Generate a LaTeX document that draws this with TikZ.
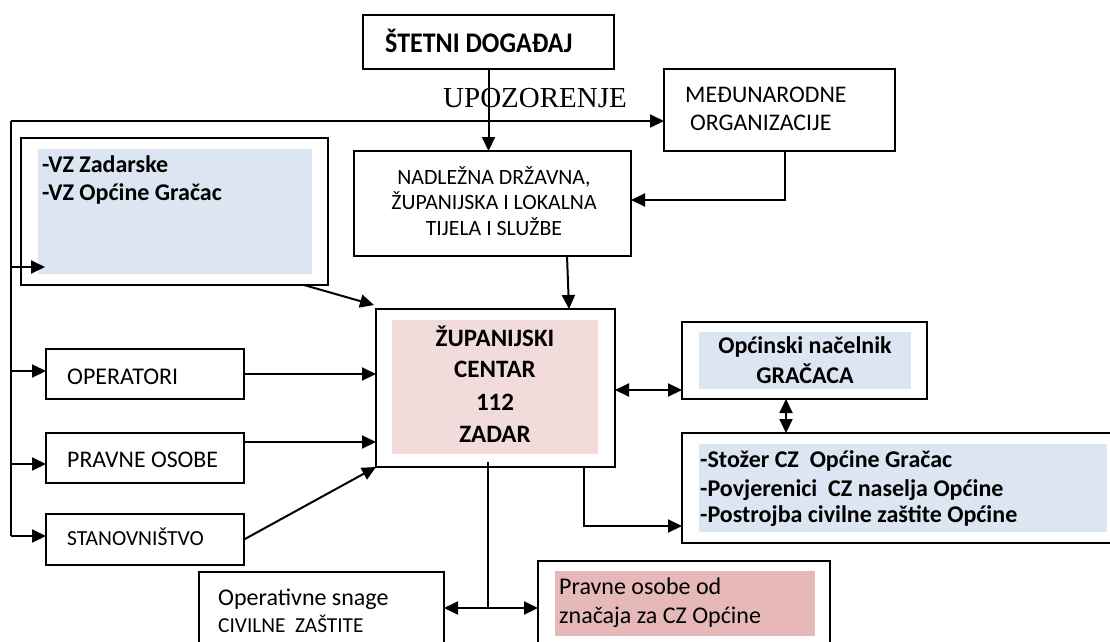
\documentclass[tikz,border=0pt]{standalone}
\usepackage{fontspec}
\setmainfont{Carlito}
\newfontfamily\serifup{Liberation Serif}
\newfontfamily\narrowc{Carlito}[FakeStretch=0.915]
\usetikzlibrary{arrows.meta,calc}
\definecolor{lblue}{HTML}{DCE6F2}
\definecolor{lpink}{HTML}{F2DCDB}
\definecolor{mpink}{HTML}{E6B8B7}
\newcommand\myfs[1]{\fontsize{#1}{#1}\selectfont}
\begin{document}
\begin{tikzpicture}[x=1pt,y=-1pt,
  box/.style={draw, line width=1.5pt, fill=white, anchor=north west, inner sep=0pt, outer sep=0pt},
  fillb/.style={draw=none, anchor=north west, inner sep=0pt, outer sep=0pt},
  arr/.style={line width=2pt, -{Triangle[length=14pt,width=13pt]}},
  darr/.style={line width=2pt, {Triangle[length=14pt,width=13pt]}-{Triangle[length=14pt,width=13pt]}},
  tl/.style={inner sep=0pt, anchor=base west},
  tc/.style={inner sep=0pt, anchor=base},
]
\useasboundingbox[fill=white] (0,0) rectangle (1110,641);

% boxes
\node[box, minimum width=251pt, minimum height=54pt] (stetni) at (363,15) {};
\node[box, minimum width=231pt, minimum height=82pt] (medj) at (664,69) {};
\node[box, minimum width=277pt, minimum height=105pt] (nadl) at (354,151) {};
\node[box, minimum width=307pt, minimum height=147pt] (vz) at (21,138) {};
\node[fillb, fill=lblue, minimum width=274pt, minimum height=125pt] (vzfill) at (38,149) {};
\node[box, minimum width=239pt, minimum height=158pt] (zup) at (376,309) {};
\node[fillb, fill=lpink, minimum width=206pt, minimum height=134pt] (zupfill) at (392,320) {};
\node[box, minimum width=198pt, minimum height=50pt] (oper) at (46,349) {};
\node[box, minimum width=198pt, minimum height=50pt] (pravne) at (46,433) {};
\node[box, minimum width=198pt, minimum height=51pt] (stan) at (46,514) {};
\node[box, minimum width=245pt, minimum height=77pt] (nac) at (682,322) {};
\node[fillb, fill=lblue, minimum width=212pt, minimum height=57pt] (nacfill) at (699,332) {};
\node[box, minimum width=450pt, minimum height=110pt] (stoz) at (682,433) {};
\node[fillb, fill=lblue, minimum width=408pt, minimum height=88pt] (stozfill) at (699,444) {};
\node[box, minimum width=245pt, minimum height=90pt] (opsn) at (199,572) {};
\node[box, minimum width=292pt, minimum height=100pt] (pravod) at (538,561) {};
\node[fillb, fill=mpink, minimum width=260pt, minimum height=65pt] (pravodfill) at (555,571) {};

% texts
\node[tl] (t-stetni) at (385,52) {\narrowc\myfs{28.4}\bfseries ŠTETNI DOGAĐAJ};
\node[tl] (t-upoz) at (443,107) {\serifup\myfs{29}UPOZORENJE};
\node[tl] (t-medj1) at (685,102) {\myfs{23.8}MEĐUNARODNE};
\node[tl] (t-medj2) at (690,130) {\myfs{23.8}ORGANIZACIJE};
\node[tc] (t-nadl1) at (494,184) {\myfs{21.8}NADLEŽNA DRŽAVNA,};
\node[tc] (t-nadl2) at (494,209) {\myfs{21.8}ŽUPANIJSKA I LOKALNA};
\node[tc] (t-nadl3) at (494,235) {\myfs{21.8}TIJELA I SLUŽBE};
\node[tl] (t-vz1) at (42,172) {\myfs{24}\bfseries -VZ Zadarske};
\node[tl] (t-vz2) at (42,200) {\myfs{24}\bfseries -VZ Općine Gračac};
\node[tc] (t-zup1) at (495,346) {\myfs{25}\bfseries ŽUPANIJSKI};
\node[tc] (t-zup2) at (495,377) {\myfs{25}\bfseries CENTAR};
\node[tc] (t-zup3) at (495,410) {\myfs{25}\bfseries 112};
\node[tc] (t-zup4) at (495,442) {\myfs{25}\bfseries ZADAR};
\node[tl] (t-oper) at (67,384) {\myfs{24}OPERATORI};
\node[tl] (t-pravne) at (67,467) {\myfs{23.8}PRAVNE OSOBE};
\node[tl] (t-stan) at (67,545) {\myfs{21.5}STANOVNIŠTVO};
\node[tc] (t-nac1) at (805,353) {\myfs{24}\bfseries Općinski načelnik};
\node[tc] (t-nac2) at (805,383) {\myfs{24}\bfseries GRAČACA};
\node[tl] (t-stoz1) at (700,467) {\myfs{24}\bfseries -Stožer CZ\ \ Općine Gračac};
\node[tl] (t-stoz2) at (700,496) {\myfs{24}\bfseries -Povjerenici\ \ CZ naselja Općine};
\node[tl] (t-stoz3) at (700,522) {\myfs{24}\bfseries -Postrojba civilne zaštite Općine};
\node[tl] (t-opsn1) at (218,605) {\myfs{24}Operativne snage};
\node[tl] (t-opsn2) at (218,632) {\myfs{21.3}CIVILNE\ \ ZAŠTITE};
\node[tl] (t-pravod1) at (559,594) {\myfs{24}Pravne osobe od};
\node[tl] (t-pravod2) at (559,623) {\myfs{24}značaja za CZ Općine};

% connector points
\coordinate (ltop) at (11,121);
\coordinate (lbot) at (11,536);
\coordinate (b1) at (11,267);
\coordinate (b2) at (11,371);
\coordinate (b3) at (11,464);
\coordinate (p2) at (244,442);
\coordinate (jb) at (488,608);
\coordinate (jt) at (488,462);

% connectors
\draw[arr] (stetni.south) -- (stetni.south |- nadl.north);
\draw[line width=2pt] (ltop) -- (lbot);
\draw[arr] (ltop) -- (ltop -| medj.west);
\draw[arr] (b1) -- ++(34,0);
\draw[arr] (b2) -- (b2 -| oper.west);
\draw[arr] (b3) -- (b3 -| pravne.west);
\draw[arr] (lbot) -- (lbot -| stan.west);
\draw[arr] (oper.east) -- (oper.east -| zup.west);
\draw[arr] (p2) -- (p2 -| zup.west);
\draw[arr] (stan.east) -- (zup.south west);
\draw[arr] ($(vz.south east)+(-24,0)$) -- ($(zup.north west)+(-2,-4)$);
\draw[arr] ($(nadl.south west)+(213,0)$) -- ($(zup.north west)+(193,0)$);
\draw[arr] ($(medj.south west)+(121,0)$) |- ($(nadl.north east)+(0,49)$);
\draw[darr] ($(zup.north east)+(0,81)$) -- ($(nac.north west)+(0,68)$);
\draw[darr] ($(nac.south west)+(104,0)$) -- ($(stoz.north west)+(104,0)$);
\draw[arr] ($(zup.south east)+(-31,0)$) |- ($(stoz.south west)+(0,-17)$);
\draw[line width=1.5pt] (jt) -- (jb);
\draw[darr] (jb -| opsn.east) -- (jb -| pravod.west);
\end{tikzpicture}
\end{document}
